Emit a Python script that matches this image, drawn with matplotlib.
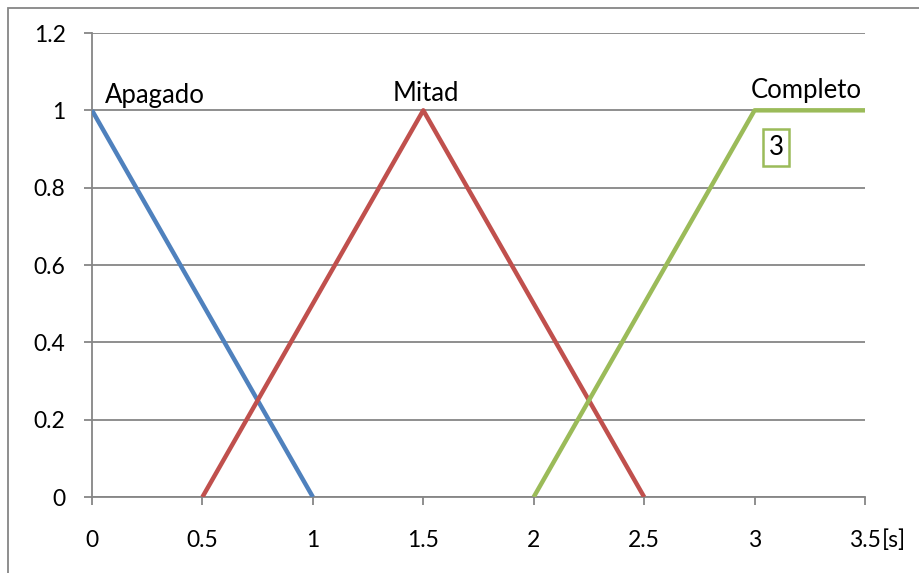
import matplotlib.pyplot as plt
from matplotlib.patches import Rectangle

# membership functions of the timer (fuzzy sets)
apagado_x = [0, 1]
apagado_y = [1, 0]
mitad_x = [0.5, 1.5, 2.5]
mitad_y = [0, 1, 0]
completo_x = [2, 3, 3.5]
completo_y = [0, 1, 1]

x_ticks = [0, 0.5, 1, 1.5, 2, 2.5, 3, 3.5]
x_labels = ['0', '0.5', '1', '1.5', '2', '2.5', '3', '3.5']
y_ticks = [0, 0.2, 0.4, 0.6, 0.8, 1, 1.2]
y_labels = ['0', '0.2', '0.4', '0.6', '0.8', '1', '1.2']

plt.rcParams['font.family'] = ['Lato', 'DejaVu Sans']

W, H = 920, 573
fig = plt.figure(figsize=(W / 100, H / 100), dpi=100)
ax = fig.add_axes([92 / W, 1 - 497 / H, (865 - 92) / W, (497 - 33) / H])

ax.plot(apagado_x, apagado_y, color='#4F81BD', lw=3.2, solid_capstyle='butt', zorder=3)
ax.plot(mitad_x, mitad_y, color='#C0504D', lw=3.2, solid_capstyle='butt', zorder=3)
ax.plot(completo_x, completo_y, color='#9BBB59', lw=3.2, solid_capstyle='butt', zorder=3)

ax.set_xlim(0, 3.5)
ax.set_ylim(0, 1.2)
ax.set_xticks(x_ticks)
ax.set_xticklabels(x_labels)
ax.set_yticks(y_ticks)
ax.set_yticklabels(y_labels)
ax.tick_params(colors='#868686', labelcolor='black', labelsize=16.5, length=6, width=1.3)
ax.tick_params(axis='x', pad=18)
ax.tick_params(axis='y', pad=13)
ax.grid(axis='y', color='#868686', lw=1.3)
for side in ['top', 'right']:
    ax.spines[side].set_visible(False)
for side in ['left', 'bottom']:
    ax.spines[side].set_color('#868686')
    ax.spines[side].set_linewidth(1.3)
ax.set_axisbelow(True)

# unit right after the last tick label
last = ax.get_xticklabels()[-1]
ax.annotate('[s]', xy=(1, 0), xycoords=last, xytext=(0.5, 0),
            textcoords='offset points', fontsize=16.5, ha='left', va='bottom')

# set names
ax.text(0.285, 1.019, 'Apagado', fontsize=18.5, ha='center', va='baseline')
ax.text(1.512, 1.024, 'Mitad', fontsize=18.5, ha='center', va='baseline')
ax.text(3.233, 1.032, 'Completo', fontsize=18.5, ha='center', va='baseline')
ax.text(3.097, 0.904, '3', fontsize=18.5, ha='center', va='center',
        bbox=dict(boxstyle='square,pad=0.22', fc='white', ec='#9BBB59', lw=1.8))

# outer chart frame
fig.patches.append(Rectangle((8 / W, -0.1), 1.2, 1 - 8 / H + 0.1, transform=fig.transFigure,
                             fill=False, ec='#868686', lw=1.3))

fig.savefig('out.png', dpi=100)
